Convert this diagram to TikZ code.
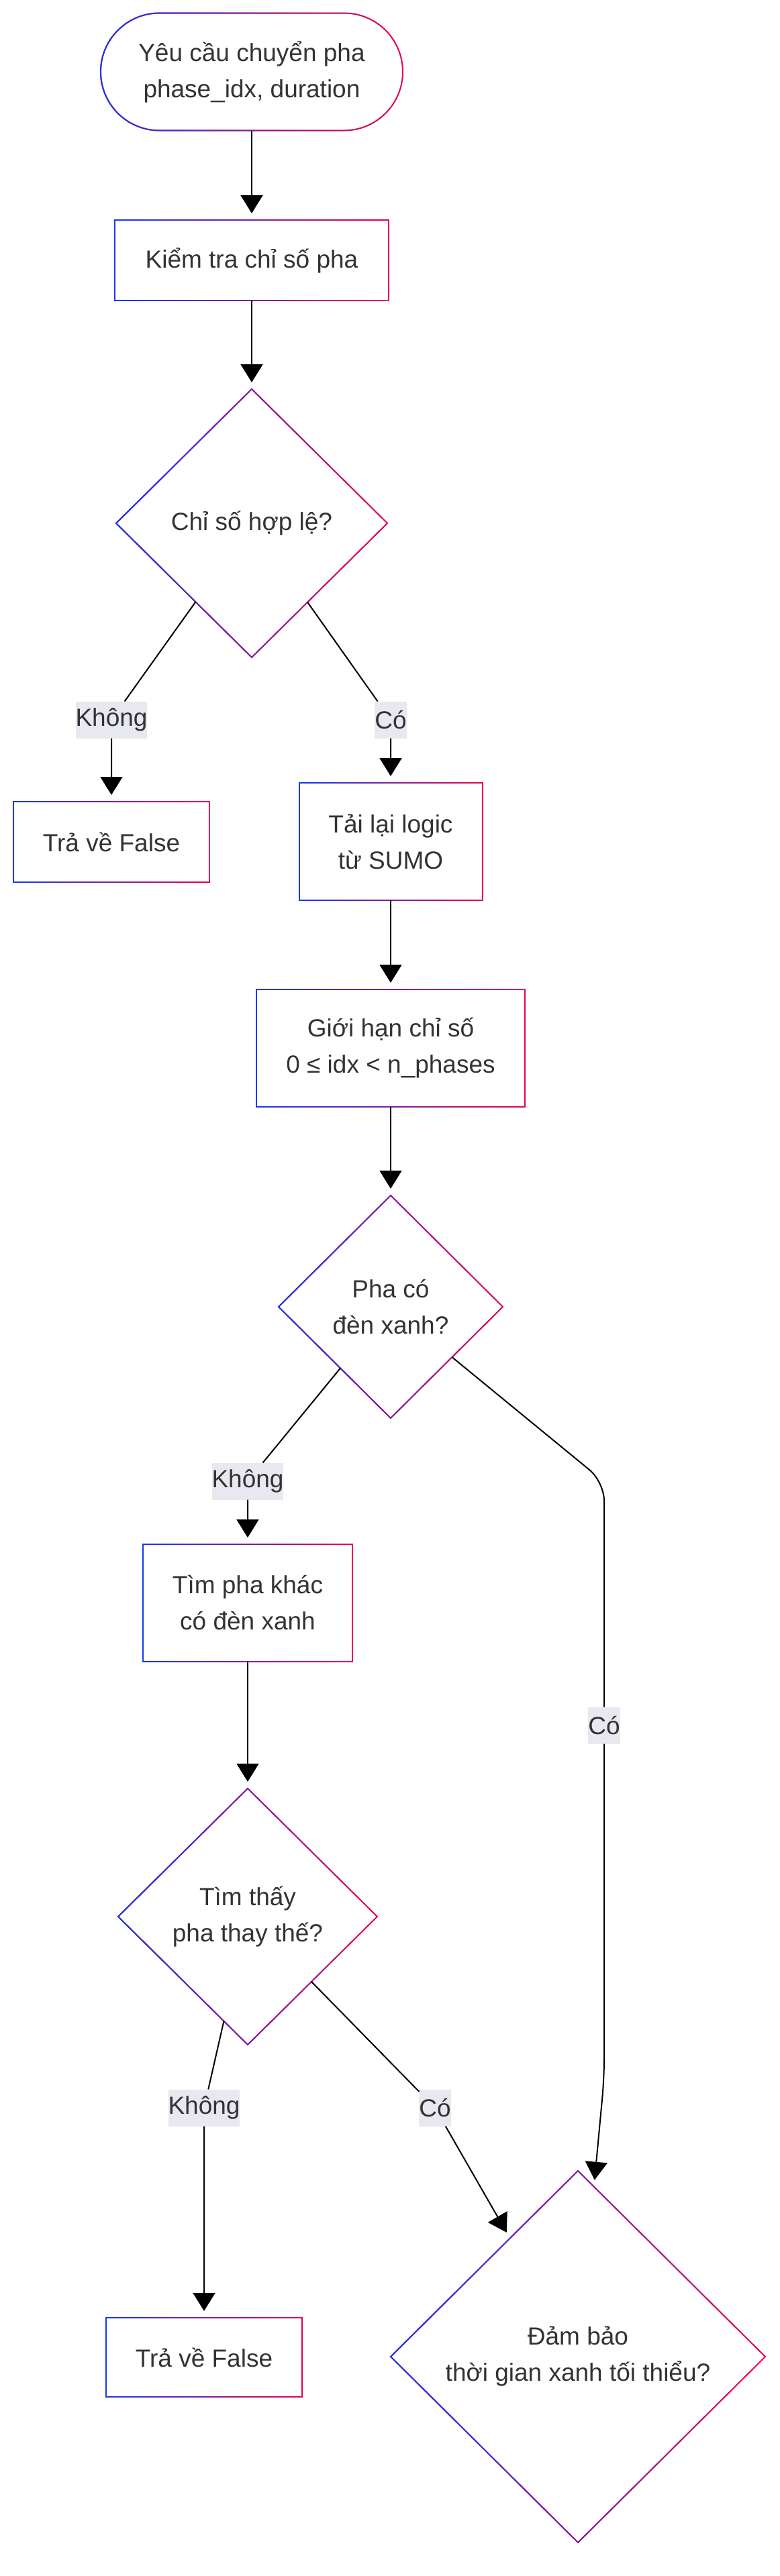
\documentclass[tikz,border=0pt]{standalone}
\usepackage{fontspec}
\setmainfont{Liberation Sans}
\usetikzlibrary{positioning,arrows.meta,shapes.geometric,fadings}
\definecolor{flowBlue}{RGB}{18,58,245}
\definecolor{flowRed}{RGB}{235,0,75}
\definecolor{flowText}{RGB}{51,51,51}
\definecolor{flowLabel}{RGB}{232,232,240}

\begin{document}
\begin{tikzpicture}[
      font=\fontsize{18.5}{27}\selectfont,
      base/.style={draw=flowRed,fill=white,line width=1pt,text=flowText,align=center,inner sep=0pt,outer sep=0pt,
        postaction={draw=flowBlue,line width=1pt,path fading=east}},
      term/.style={base,rectangle,rounded corners=43.75pt,minimum width=225pt,minimum height=87.5pt},
      proc/.style={base,rectangle,minimum height=87.5pt},
      dec/.style={base,diamond,aspect=1},
      lbl/.style={fill=flowLabel,text=flowText,inner xsep=0pt,inner ysep=0pt,outer sep=0pt,minimum height=27.5pt},
      arr/.style={-{Triangle[length=13.5pt,width=16.5pt]},black,line width=1pt,shorten >=5pt}]
    \useasboundingbox (0,0) rectangle (581pt,-1920pt);
    \node[term] (start) at (187.5pt,-53.5pt) {Yêu cầu chuyển pha\\phase\_idx, duration};
    \node[proc,below=66.75pt of start,minimum width=204pt,minimum height=60pt] (check) {Kiểm tra chỉ số pha};
    \node[dec,below=66pt of check,minimum width=202pt,minimum height=200pt] (valid) {Chỉ số hợp lệ?};
    \node[lbl,below=32.75pt of valid,xshift=-104.5pt] (noValid) {Không};
    \node[lbl,below=32.75pt of valid,xshift=103.5pt] (yesValid) {Có};
    \node[proc,below=47.25pt of noValid,minimum width=146pt,minimum height=60pt] (false1) {Trả về False};
    \node[proc,below=33.25pt of yesValid,minimum width=136.5pt] (reload) {Tải lại logic\\từ SUMO};
    \node[proc,below=66.5pt of reload,minimum width=200pt] (clamp) {Giới hạn chỉ số\\0 ≤ idx < n\_phases};
    \node[dec,below=66pt of clamp,minimum width=167pt,minimum height=166pt] (green) {Pha có\\đèn xanh?};
    \node[lbl,below=33.25pt of green,xshift=-106.5pt] (noGreen) {Không};
    \coordinate[below=47.5pt of green,xshift=159pt] (bendGreen);
    \node[lbl,below=215.25pt of green,xshift=159pt] (yesGreen) {Có};
    \coordinate[below=249.25pt of yesGreen] (dropGreen);
    \node[proc,below=33.25pt of noGreen,minimum width=156pt] (other) {Tìm pha khác\\có đèn xanh};
    \node[dec,below=94.5pt of other,minimum width=193pt,minimum height=191pt] (found) {Tìm thấy\\pha thay thế?};
    \node[lbl,below=33.25pt of found,xshift=-32.5pt] (noFound) {Không};
    \node[lbl,below=33.25pt of found,xshift=139.5pt] (yesFound) {Có};
    \node[proc,below=142.75pt of noFound,minimum width=146pt,minimum height=59pt] (false2) {Trả về False};
    \node[dec,below=94pt of found,xshift=246pt,minimum width=279pt,minimum height=277pt] (minGreen) {Đảm bảo\\thời gian xanh tối thiểu?};
    \draw[arr] (start) -- (check);
    \draw[arr] (check) -- (valid);
    \draw[arr] (valid) -- (noValid) -- (false1);
    \draw[arr] (valid) -- (yesValid) -- (reload);
    \draw[arr] (reload) -- (clamp);
    \draw[arr] (clamp) -- (green);
    \draw[arr] (green) -- (noGreen) -- (other);
    \draw[arr,rounded corners=14pt] (green) -- (bendGreen) -- (yesGreen) -- (dropGreen) -- (minGreen);
    \draw[arr] (other) -- (found);
    \draw[arr] (found) -- (noFound) -- (false2);
    \draw[arr] (found) -- (yesFound) -- (minGreen);
  \end{tikzpicture}
\end{document}
